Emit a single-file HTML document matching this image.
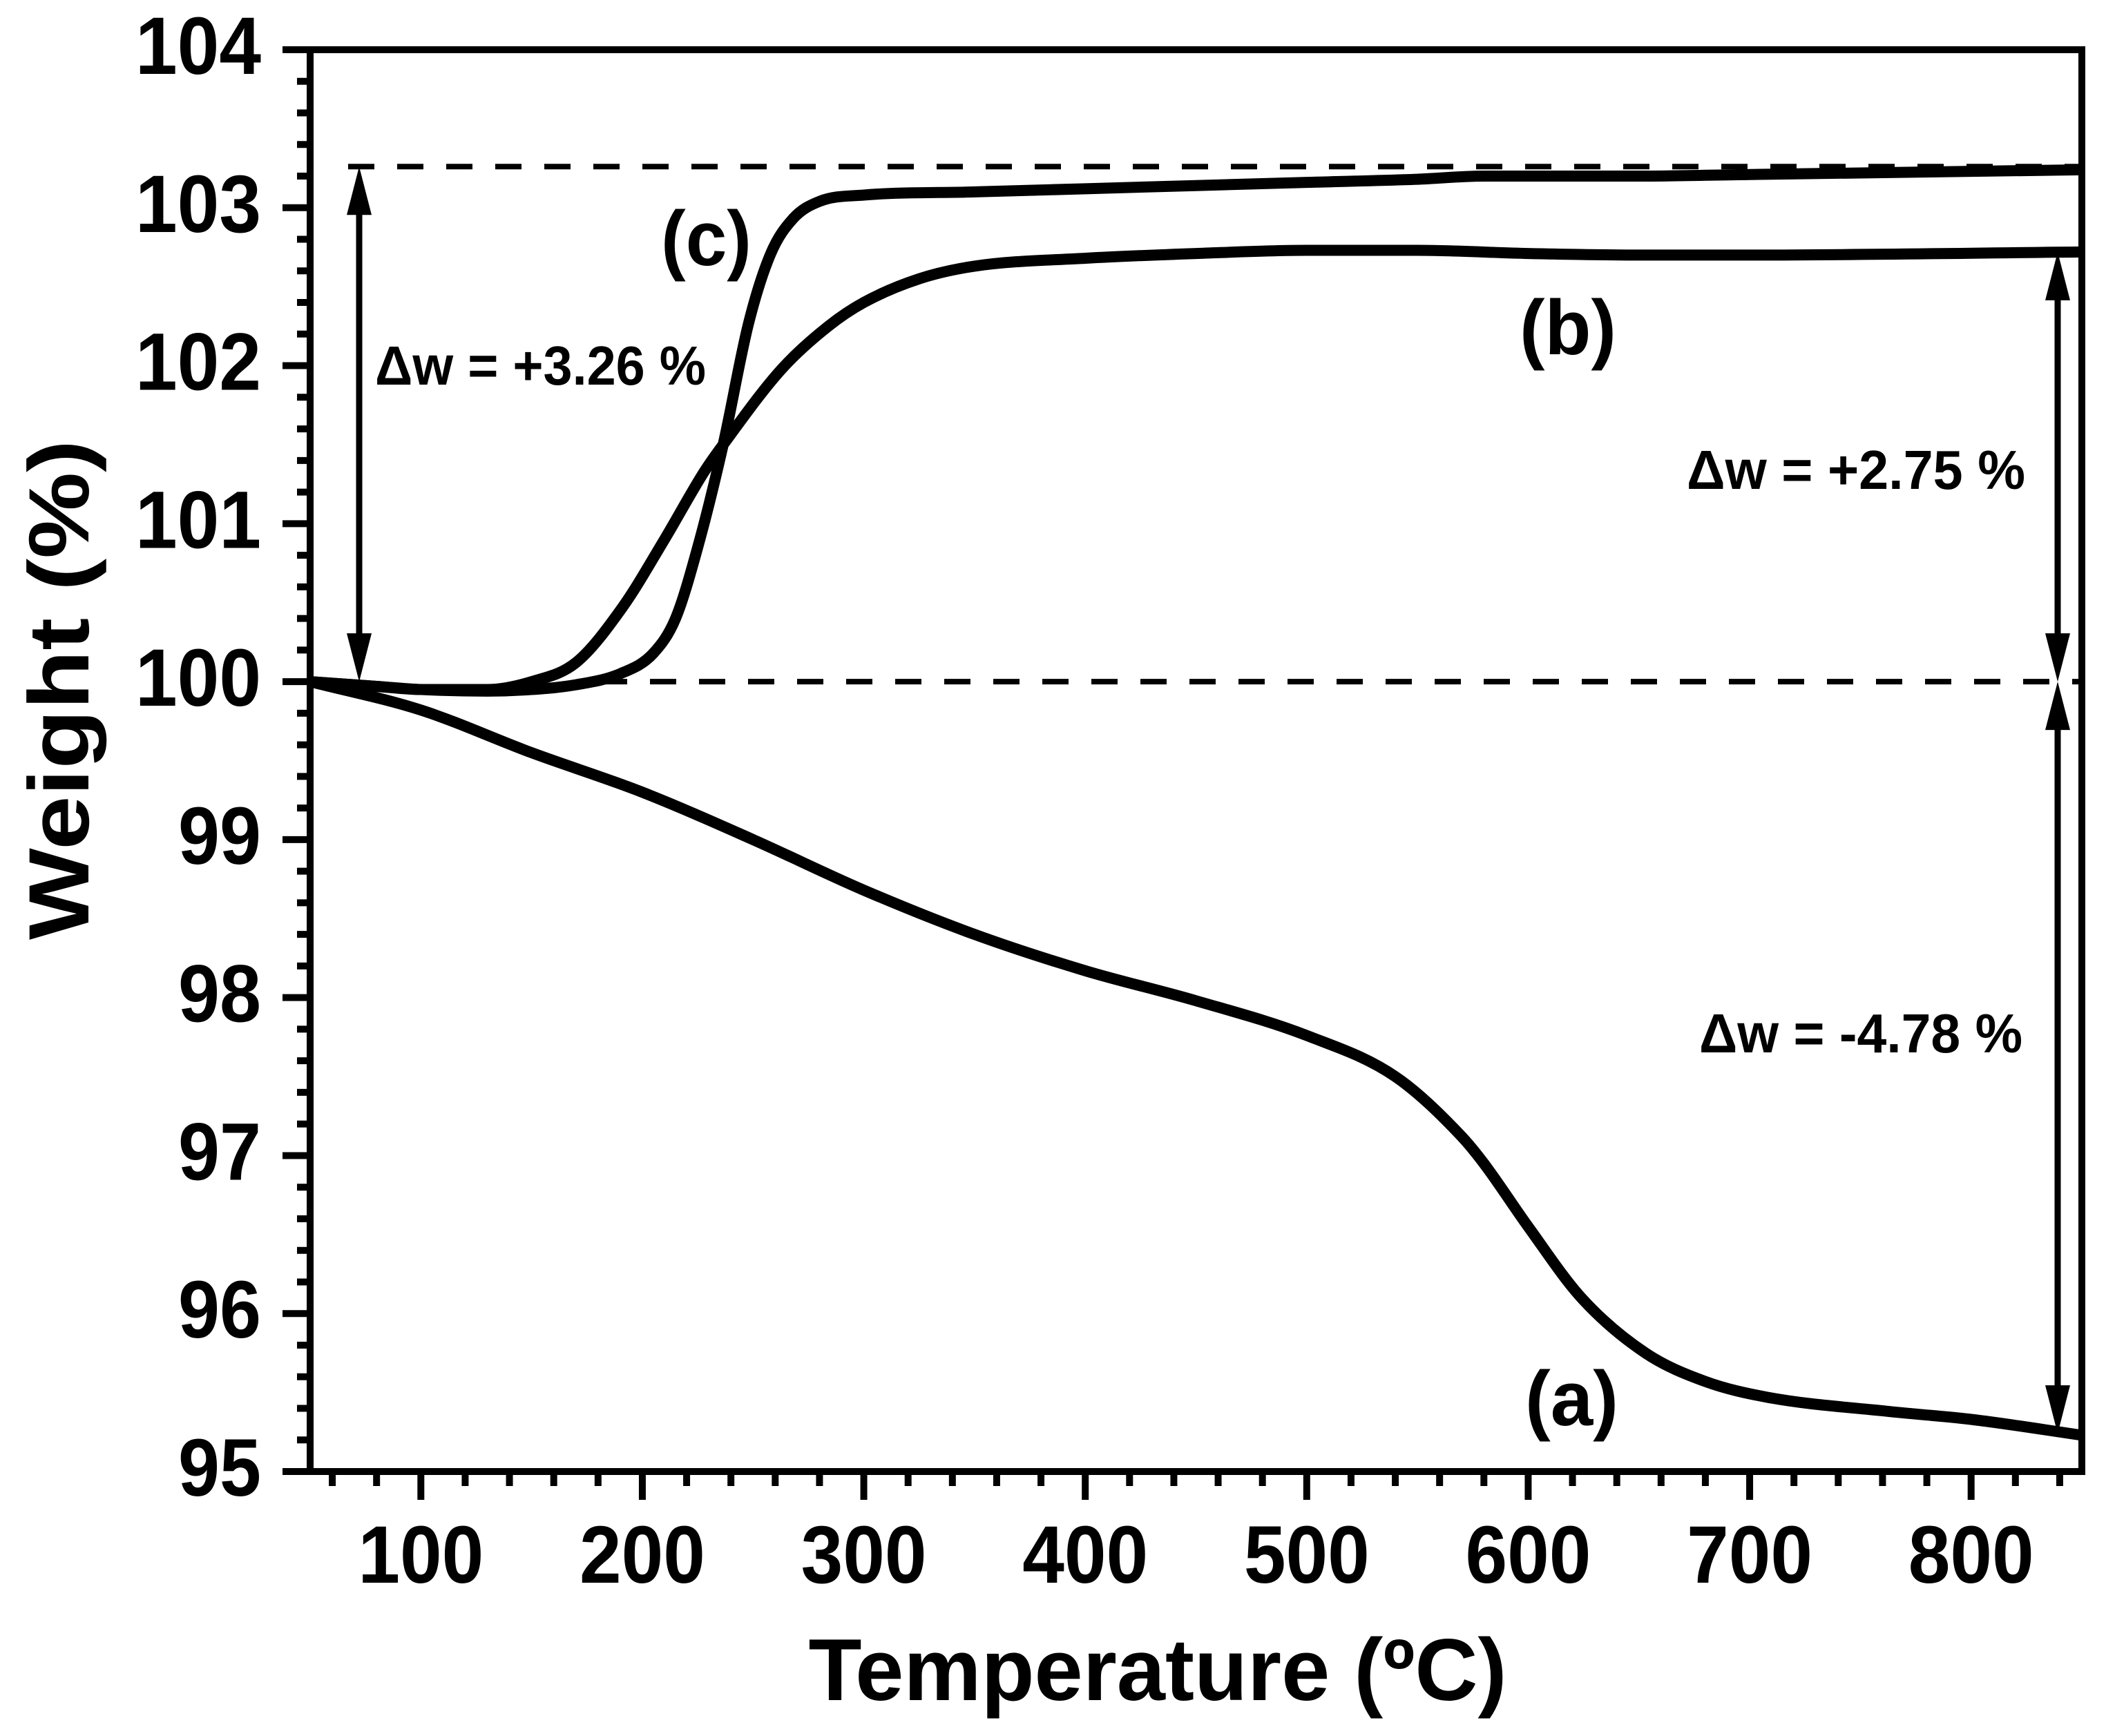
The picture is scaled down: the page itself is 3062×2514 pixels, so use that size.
<!DOCTYPE html>
<html><head><meta charset="utf-8"><style>
html,body{margin:0;padding:0;background:#fff;}
svg{display:block;}
text{font-family:"Liberation Sans",Arial,sans-serif;font-weight:bold;fill:#000;}
</style></head><body>
<svg id="chart" width="3062" height="2514" viewBox="0 0 3062 2514" xmlns="http://www.w3.org/2000/svg">
<g id="axes"></g>
<g id="refs"></g>
<g id="series"></g>
<g id="annot"></g>
<text x="1676" y="2462" font-size="127" text-anchor="middle" textLength="1011" lengthAdjust="spacingAndGlyphs">Temperature (ºC)</text>
<text transform="translate(128,999) rotate(-90)" x="0" y="0" font-size="124" text-anchor="middle" textLength="724" lengthAdjust="spacingAndGlyphs">Weight (%)</text>
<text x="957" y="384" font-size="112" textLength="131" lengthAdjust="spacingAndGlyphs">(c)</text>
<text x="2200" y="513" font-size="112" textLength="140" lengthAdjust="spacingAndGlyphs">(b)</text>
<text x="2208" y="2064" font-size="112" textLength="135" lengthAdjust="spacingAndGlyphs">(a)</text>
<text x="543" y="557" font-size="80" textLength="479" lengthAdjust="spacingAndGlyphs">Δw = +3.26 %</text>
<text x="2442" y="708" font-size="80" textLength="490" lengthAdjust="spacingAndGlyphs">Δw = +2.75 %</text>
<text x="2460" y="1524" font-size="80" textLength="468" lengthAdjust="spacingAndGlyphs">Δw = -4.78 %</text>
</svg>
<script>
const xTicks = [100,200,300,400,500,600,700,800];
const yTicks = [95,96,97,98,99,100,101,102,103,104];
const seriesA_T = [50,100,150,200,250,300,350,400,450,500,540,570,580,600,624,653,680,708,763,800,850];
const seriesA_W = [100,99.82,99.55,99.3,99.0,98.68,98.4,98.17,97.98,97.76,97.5,97.12,96.95,96.55,96.1,95.75,95.57,95.47,95.38,95.33,95.23];
const seriesB_T = [50,80,100,130,150,170,191,210,228,236.5,263,284,300,325,350,400,450,500,550,600,650,700,850];
const seriesB_W = [100,99.97,99.95,99.95,100.0,100.12,100.47,100.9,101.33,101.5,101.98,102.25,102.4,102.55,102.63,102.68,102.71,102.73,102.73,102.71,102.7,102.7,102.72];
const seriesC_T = [50,80,100,130,150,170,190,205,215,225,236.5,248,258,268,280,300,350,400,500,550,580,650,700,850];
const seriesC_W = [100,99.97,99.95,99.94,99.95,99.98,100.05,100.18,100.4,100.85,101.5,102.27,102.71,102.93,103.04,103.08,103.1,103.12,103.16,103.18,103.2,103.2,103.21,103.24];
const refLevels = [100, 103.26];
const deltaArrowC = [100, 103.26];
const deltaArrowB = [100, 102.72];
const deltaArrowA = [100, 95.24];

const NS = "http://www.w3.org/2000/svg";
const X0=449, X1=3014, Y0=72, Y1=2131, TMIN=50, TMAX=850, WMIN=95, WMAX=104;
function sx(t){return X0+(t-TMIN)*(X1-X0)/(TMAX-TMIN);}
function sy(w){return Y1-(w-WMIN)*(Y1-Y0)/(WMAX-WMIN);}
function mk(tag, attrs, parent){const e=document.createElementNS(NS,tag);for(const k in attrs)e.setAttribute(k,attrs[k]);parent.appendChild(e);return e;}

const axes=document.getElementById('axes');
let fr=mk('rect',{x:X0,y:Y0,width:X1-X0,height:Y1-Y0,fill:'none',stroke:'#000','stroke-width':10},axes);


for(let i=0;i<yTicks.length;i++){
  const w=yTicks[i];
  const t=mk('line',{x1:X0-40,x2:X0,y1:sy(w),y2:sy(w),stroke:'#000','stroke-width':10},axes);
  
  
  const lb=mk('text',{x:378,y:sy(w)+35,'font-size':118,'text-anchor':'end',textLength:(w>=100?182:120),lengthAdjust:'spacingAndGlyphs'},axes);
  lb.textContent=String(w);
  
  
  if(i<yTicks.length-1){
    for(let k=1;k<5;k++){
      const m=mk('line',{x1:X0-19,x2:X0,y1:sy(w+k*0.2),y2:sy(w+k*0.2),stroke:'#000','stroke-width':10},axes);
      
      
    }
  }
}
for(let t=60;t<=840;t+=20){
  const major=(t%100===0);
  const l=mk('line',{x1:sx(t),x2:sx(t),y1:Y1,y2:Y1+(major?41:21),stroke:'#000','stroke-width':10},axes);
  
  
}
for(const t of xTicks){
  const lb=mk('text',{x:sx(t),y:2292,'font-size':118,'text-anchor':'middle',textLength:182,lengthAdjust:'spacingAndGlyphs'},axes);
  lb.textContent=String(t);
  
  
}
const refs=document.getElementById('refs');
const r1=mk('line',{x1:870,x2:X1,y1:sy(refLevels[0]),y2:sy(refLevels[0]),stroke:'#000','stroke-width':8,'stroke-dasharray':'38 33'},refs);


const r2=mk('line',{x1:504,x2:X1,y1:sy(refLevels[1]),y2:sy(refLevels[1]),stroke:'#000','stroke-width':8,'stroke-dasharray':'38 33'},refs);



function pathFor(T,W){
  const xs=T.map(sx), ys=W.map(sy), n=xs.length;
  const d=[],m=[];
  for(let i=0;i<n-1;i++)d.push((ys[i+1]-ys[i])/(xs[i+1]-xs[i]));
  m[0]=d[0];m[n-1]=d[n-2];
  for(let i=1;i<n-1;i++){m[i]=(d[i-1]*d[i]<=0)?0:(d[i-1]+d[i])/2;}
  for(let i=0;i<n-1;i++){
    if(d[i]===0){m[i]=0;m[i+1]=0;continue;}
    const a=m[i]/d[i],b=m[i+1]/d[i],s=a*a+b*b;
    if(s>9){const tt=3/Math.sqrt(s);m[i]=tt*a*d[i];m[i+1]=tt*b*d[i];}
  }
  let p='M'+xs[0]+','+ys[0];
  for(let i=0;i<n-1;i++){
    const h=(xs[i+1]-xs[i])/3;
    p+=' C'+(xs[i]+h)+','+(ys[i]+m[i]*h)+' '+(xs[i+1]-h)+','+(ys[i+1]-m[i+1]*h)+' '+xs[i+1]+','+ys[i+1];
  }
  return p;
}
const series=document.getElementById('series');
const pa=mk('path',{d:pathFor(seriesA_T,seriesA_W),fill:'none',stroke:'#000','stroke-width':16,'stroke-linejoin':'round'},series);


const pb=mk('path',{d:pathFor(seriesB_T,seriesB_W),fill:'none',stroke:'#000','stroke-width':16,'stroke-linejoin':'round'},series);


const pc=mk('path',{d:pathFor(seriesC_T,seriesC_W),fill:'none',stroke:'#000','stroke-width':16,'stroke-linejoin':'round'},series);



const annot=document.getElementById('annot');
function dblArrow(x,wA,wB,name){
  const ya=sy(wA), yb=sy(wB);
  const top=Math.min(ya,yb), bot=Math.max(ya,yb);
  const g=mk('g',{},annot);
  
  
  mk('line',{x1:x,x2:x,y1:top+60,y2:bot-60,stroke:'#000','stroke-width':9},g);
  mk('polygon',{points:`${x},${top} ${x-18},${top+70} ${x+18},${top+70}`,fill:'#000'},g);
  mk('polygon',{points:`${x},${bot} ${x-18},${bot-70} ${x+18},${bot-70}`,fill:'#000'},g);
}
dblArrow(520,deltaArrowC[0],deltaArrowC[1],'delta-c-arrow');
dblArrow(2979,deltaArrowB[0],deltaArrowB[1],'delta-b-arrow');
dblArrow(2979,deltaArrowA[0],deltaArrowA[1],'delta-a-arrow');
</script>
</body></html>
